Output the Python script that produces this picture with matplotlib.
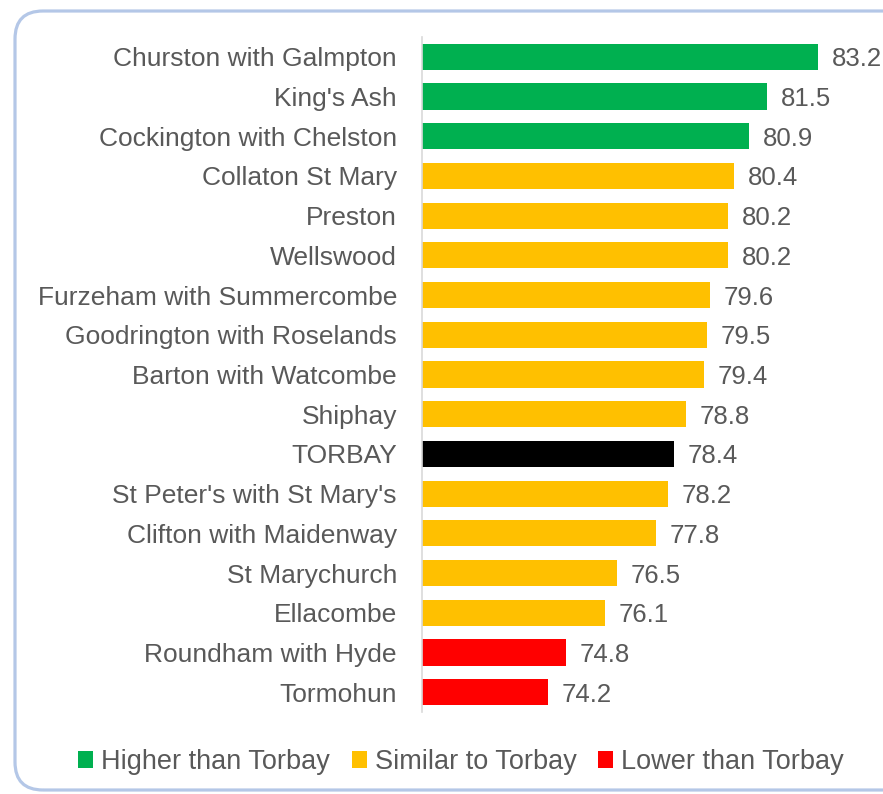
import matplotlib.pyplot as plt
from matplotlib.patches import Patch, FancyBboxPatch

plt.rcParams['font.family'] = ['Liberation Sans', 'DejaVu Sans']

# ── Data ──────────────────────────────────────────────────────────────────────
wards = ['Churston with Galmpton', "King's Ash", 'Cockington with Chelston',
         'Collaton St Mary', 'Preston', 'Wellswood', 'Furzeham with Summercombe',
         'Goodrington with Roselands', 'Barton with Watcombe', 'Shiphay', 'TORBAY',
         "St Peter's with St Mary's", 'Clifton with Maidenway', 'St Marychurch',
         'Ellacombe', 'Roundham with Hyde', 'Tormohun']
values = [83.2, 81.5, 80.9, 80.4, 80.2, 80.2, 79.6, 79.5, 79.4, 78.8, 78.4,
          78.2, 77.8, 76.5, 76.1, 74.8, 74.2]
groups = ['higher', 'higher', 'higher', 'similar', 'similar', 'similar', 'similar',
          'similar', 'similar', 'similar', 'torbay', 'similar', 'similar', 'similar',
          'similar', 'lower', 'lower']
legend_labels = ['Higher than Torbay', 'Similar to Torbay', 'Lower than Torbay']

colors = {'higher': '#00B050', 'similar': '#FFC000', 'lower': '#FF0000', 'torbay': '#000000'}
TXT = '#595959'
FS = 19

W, H = 883, 794
fig = plt.figure(figsize=(W / 100, H / 100), dpi=100)

# rounded light-blue frame (runs off the right edge like the original)
frame = FancyBboxPatch((15 / 100, 4 / 100), 900 / 100, 779 / 100,
                       boxstyle='round,pad=0,rounding_size=0.28',
                       transform=fig.dpi_scale_trans, fill=False,
                       edgecolor='#B4C7E7', linewidth=2.3, zorder=0)
fig.patches.append(frame)

ax = fig.add_axes([422 / W, 82 / H, (872 - 422) / W, (757 - 82) / H])
ax.set_facecolor('none')

y = list(range(len(wards)))[::-1]
bar_cols = [colors[g] for g in groups]
ax.barh(y, values, height=0.66, color=bar_cols, left=0)
ax.set_xlim(70, 85)
ax.set_ylim(-0.5, len(wards) - 0.5)

for yi, v in zip(y, values):
    ax.text(v + 0.45, yi, f'{v:.1f}', va='center_baseline', ha='left', fontsize=FS - 0.5,
            color=TXT, clip_on=False)

ax.set_yticks(y)
ax.set_yticklabels(wards, fontsize=FS, color=TXT)
ax.tick_params(axis='y', length=0, pad=18)
ax.set_xticks([])
for s in ['top', 'right', 'bottom']:
    ax.spines[s].set_visible(False)
ax.spines['left'].set_color('#D9D9D9')
ax.spines['left'].set_linewidth(1.2)

handles = [Patch(facecolor=colors[k], edgecolor='none') for k in ['higher', 'similar', 'lower']]
fig.legend(handles, legend_labels, loc='center', bbox_to_anchor=(461 / W, 1 - 762 / H),
           ncol=3, frameon=False, fontsize=FS + 0.5, labelcolor=TXT,
           handlelength=0.55, handleheight=0.55, handletextpad=0.3, columnspacing=0.8)

plt.savefig('out.png', dpi=100)
